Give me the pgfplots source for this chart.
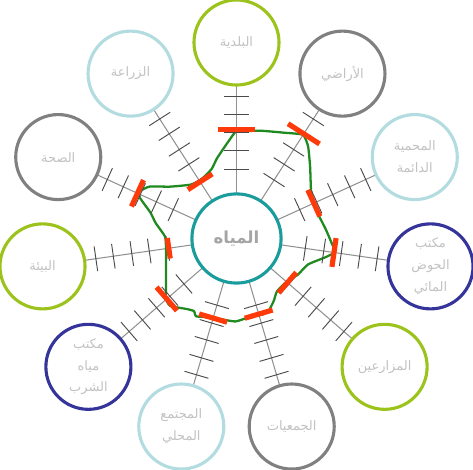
\documentclass[border=0pt]{standalone}
\usepackage{pgfplots}
\pgfplotsset{compat=1.18}
\usepackage{fontspec}
\newfontfamily\arabicfont[Script=Arabic]{DejaVu Sans}
\definecolor{cgreen}{HTML}{9CC31C}
\definecolor{cgray}{HTML}{808080}
\definecolor{clblue}{HTML}{B2DCE0}
\definecolor{cdblue}{HTML}{34349A}
\definecolor{cteal}{HTML}{1B9C9C}
\definecolor{spoke}{HTML}{909090}
\definecolor{tickc}{HTML}{4A4A4A}
\definecolor{cred}{HTML}{FF3A0A}
\definecolor{curve}{HTML}{1F8A1F}
\definecolor{txt}{HTML}{C2C2C2}
\newcommand\lab[1]{\textcolor{txt}{\arabicfont #1}}
\begin{document}
\begin{tikzpicture}
\begin{axis}[
    x=1pt, y=1pt,
    xmin=-241, xmax=232,
    ymin=-225, ymax=232,
    enlargelimits=false,
    hide axis,
    clip=false,
]
% spokes and their ticks, angle of each spoke
\pgfplotsinvokeforeach{90,57.273,24.545,-8.182,-40.909,-73.636,-106.364,-139.091,-171.818,155.455,122.727}{
  \addplot[spoke, line width=1pt, data cs=polar] coordinates {(#1,43) (#1,147)};
  \addplot[only marks, mark=|, mark size=12, tickc, data cs=polar,
    mark options={rotate=#1, line width=0.9pt}]
    coordinates {(#1,67) (#1,85) (#1,102) (#1,120) (#1,137)};
}
% red markers (angle, radius)
\addplot[only marks, mark=|, mark size=18, cred, data cs=polar, mark options={rotate=90, line width=5pt}] coordinates {(90,105)};
\addplot[only marks, mark=|, mark size=18, cred, data cs=polar, mark options={rotate=57.273, line width=5pt}] coordinates {(57.273,120)};
\addplot[only marks, mark=|, mark size=14, cred, data cs=polar, mark options={rotate=24.545, line width=5pt}] coordinates {(24.545,82)};
\addplot[only marks, mark=|, mark size=14, cred, data cs=polar, mark options={rotate=-8.182, line width=5pt}] coordinates {(-8.182,95)};
\addplot[only marks, mark=|, mark size=13, cred, data cs=polar, mark options={rotate=-40.909, line width=5pt}] coordinates {(-40.909,65)};
\addplot[only marks, mark=|, mark size=14, cred, data cs=polar, mark options={rotate=-73.636, line width=5pt}] coordinates {(-73.636,76)};
\addplot[only marks, mark=|, mark size=14, cred, data cs=polar, mark options={rotate=-106.364, line width=5pt}] coordinates {(-106.364,80)};
\addplot[only marks, mark=|, mark size=15, cred, data cs=polar, mark options={rotate=-139.091, line width=5pt}] coordinates {(-139.091,89)};
\addplot[only marks, mark=|, mark size=10, cred, data cs=polar, mark options={rotate=-171.818, line width=5pt}] coordinates {(-171.818,66)};
\addplot[only marks, mark=|, mark size=14, cred, data cs=polar, mark options={rotate=155.455, line width=5pt}] coordinates {(155.455,105)};
\addplot[only marks, mark=|, mark size=14, cred, data cs=polar, mark options={rotate=122.727, line width=5pt}] coordinates {(122.727,65)};
% green profile
\addplot[curve, line width=2.2pt, line join=round, smooth, tension=0.3] coordinates {
  (-1,103) (22,104) (46,102) (64,100) (69,89) (71,69) (72,45) (76,29)
  (86,9) (92,-5) (95,-13) (86,-18) (69,-25) (59,-35) (49,-41) (39,-51)
  (36,-60) (31,-70) (26,-73) (12,-76) (-1,-80) (-14,-78) (-28,-76) (-39,-75)
  (-41,-70) (-48,-68) (-64,-65) (-68,-58) (-68,-45) (-68,-18) (-68,-8) (-69,2)
  (-78,15) (-83,25) (-93,39) (-94,45) (-84,50) (-64,50) (-44,52) (-34,57)
  (-24,67) (-19,77) (-11,89) (-4,99) (-1,103)
};
% hub
\addplot[only marks, mark=*, mark size=43, mark options={draw=cteal, fill=white, line width=3pt}] coordinates {(0,0)};
% outer circles
\addplot[only marks, mark=*, mark size=41, data cs=polar, mark options={draw=cgreen, fill=white, line width=3pt}] coordinates {(90,189) (-40.909,189) (-171.818,189)};
\addplot[only marks, mark=*, mark size=41, data cs=polar, mark options={draw=cgray, fill=white, line width=3pt}] coordinates {(57.273,189) (-73.636,189) (155.455,189)};
\addplot[only marks, mark=*, mark size=41, data cs=polar, mark options={draw=clblue, fill=white, line width=3pt}] coordinates {(24.545,189) (-106.364,189) (122.727,189)};
\addplot[only marks, mark=*, mark size=41, data cs=polar, mark options={draw=cdblue, fill=white, line width=3pt}] coordinates {(-8.182,189) (-139.091,189)};
% label anchors
\coordinate (hub) at (axis cs:0,0);
\coordinate (c0) at (axis cs:0,189);
\coordinate (c1) at (axis cs:102.2,159.0);
\coordinate (c2) at (axis cs:171.9,78.5);
\coordinate (c3) at (axis cs:187.1,-26.9);
\coordinate (c4) at (axis cs:142.8,-123.8);
\coordinate (c5) at (axis cs:53.2,-181.3);
\coordinate (c6) at (axis cs:-53.2,-181.3);
\coordinate (c7) at (axis cs:-142.8,-123.8);
\coordinate (c8) at (axis cs:-187.1,-26.9);
\coordinate (c9) at (axis cs:-171.9,78.5);
\coordinate (c10) at (axis cs:-102.2,159.0);
\end{axis}
\begin{scope}[every node/.style={align=center, font=\fontsize{12.5}{21}\selectfont}]
\node at (c0) {\lab{البلدية}};
\node at (c1) {\lab{الأراضي}};
\node at (c2) {\lab{المحمية}\\\lab{الدائمة}};
\node at (c3) {\lab{مكتب}\\\lab{الحوض}\\\lab{المائي}};
\node at (c4) {\lab{المزارعين}};
\node at (c5) {\lab{الجمعيات}};
\node at (c6) {\lab{المجتمع}\\\lab{المحلي}};
\node at (c7) {\lab{مكتب}\\\lab{مياه}\\\lab{الشرب}};
\node at (c8) {\lab{البيئة}};
\node at (c9) {\lab{الصحة}};
\node at (c10) {\lab{الزراعة}};
\end{scope}
\node[font=\fontsize{16}{18}\selectfont\bfseries] at (hub) {\textcolor{txt!85!black}{\arabicfont المياه}};
\end{tikzpicture}
\end{document}
